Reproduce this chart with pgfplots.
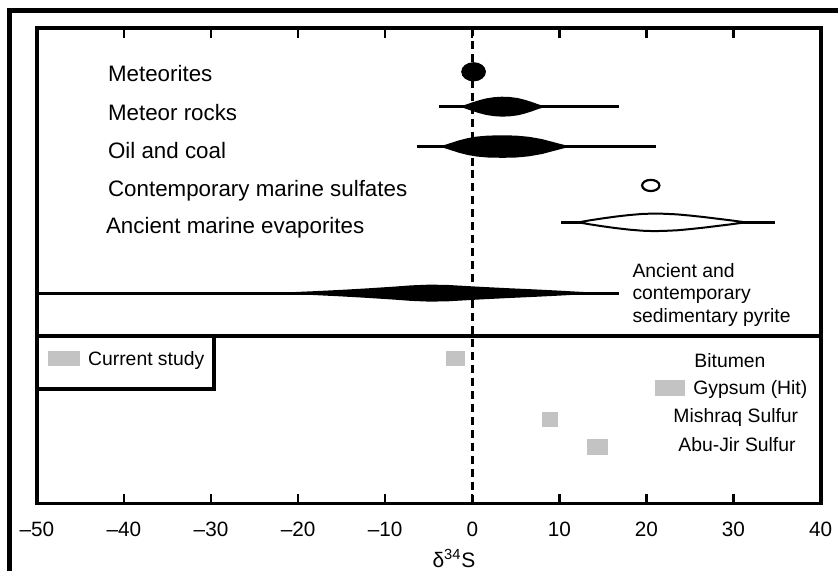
\documentclass[border=0pt]{standalone}
\usepackage{pgfplots}
\pgfplotsset{compat=1.18}
\usepackage{fontspec}
\setmainfont{Liberation Sans}
\definecolor{studygray}{RGB}{195,195,195}
\newcommand{\upfont}{\fontsize{11.2}{13}\selectfont}
\newcommand{\lowfont}{\fontsize{9.7}{11.5}\selectfont}
\begin{document}
\begin{tikzpicture}
\begin{axis}[
  scale only axis, width=393pt, height=238.5pt,
  xmin=-50, xmax=40, ymin=28, ymax=505, y dir=reverse,
  clip=false,
  axis line style={line width=2pt},
  xtick={-50,-40,...,40},
  xticklabels={--50,--40,--30,--20,--10,0,10,20,30,40},
  ytick=\empty,
  tick align=inside,
  major tick length=5pt,
  every tick/.style={black, line width=1.2pt},
  xticklabel style={font=\fontsize{10.4}{12}\selectfont, anchor=base, inner sep=0pt, yshift=-16.5pt},
]
% bounding box of whole figure (pixel frame)
\path (axis cs:-54.237,0) rectangle (axis cs:41.947,573);
% outer frame
\draw[line width=2.5pt] (axis cs:-53.09,573) -- (axis cs:-53.09,11) -- (axis cs:41.947,11);

% zero line
\addplot[line width=1.4pt, dash pattern=on 4pt off 2.5pt] coordinates {(0,28) (0,505)};

% divider and legend box
\addplot[line width=2pt] coordinates {(-50,337) (40,337)};
\draw[line width=2pt] (axis cs:-50,337) rectangle (axis cs:-29.62,390);

% Meteorites
\addplot[only marks, mark=*, mark size=4.6pt, mark options={xscale=1.3, fill=black, draw=none}] coordinates {(0.15,72)};

% Meteor rocks
\addplot[line width=1.5pt] coordinates {(-3.8,107) (16.9,107)};
\addplot[fill=black, draw=none] coordinates {
(-1.2,106.3) (-0.6,104.5) (0,102.7) (0.8,100.5) (1.6,98.7) (2.5,97.5) (3.4,97) (4.3,97.3) (5.2,98.3) (6.0,100) (6.8,102.2) (7.5,104.4) (8.2,106.3)
(8.2,107.7) (7.5,109.6) (6.8,111.8) (6.0,114) (5.2,115.7) (4.3,116.7) (3.4,117) (2.5,116.5) (1.6,115.3) (0.8,113.5) (0,111.3) (-0.6,109.5) (-1.2,107.7)};

% Oil and coal
\addplot[line width=1.5pt] coordinates {(-6.4,147) (21.1,147)};
\addplot[fill=black, draw=none] coordinates {
(-3.5,146.3) (-2.5,143.5) (-1.5,140.7) (-0.5,138.5) (0.5,137) (1.8,136) (3.5,135.7) (5,136) (6.5,137.2) (8,139.5) (9.3,142.5) (10.3,144.8) (11,146.3)
(11,147.7) (10.3,149.2) (9.3,151.5) (8,154.5) (6.5,156.8) (5,158) (3.5,158.3) (1.8,158) (0.5,157) (-0.5,155.5) (-1.5,153.3) (-2.5,150.5) (-3.5,147.7)};

% Contemporary marine sulfates
\addplot[only marks, mark=o, mark size=2.8pt, mark options={xscale=1.55, draw=black, line width=1.1pt, fill=white}] coordinates {(20.5,186)};

% Ancient marine evaporites
\addplot[line width=1.2pt] coordinates {(10.2,223) (34.8,223)};
\addplot[fill=white, draw=black, line width=1pt] coordinates {
(12.2,223) (13.5,221) (15,219) (16.5,217.2) (18,215.7) (19.5,214.6) (20.8,214.2) (22,214.4) (23.5,215) (25,216.2) (26.5,217.6) (28,219.2) (29.5,220.8) (31.4,223)
(29.5,225.2) (28,226.8) (26.5,228.4) (25,229.8) (23.5,231) (22,231.6) (20.8,231.8) (19.5,231.4) (18,230.3) (16.5,228.8) (15,227) (13.5,225) (12.2,223)};

% Ancient and contemporary sedimentary pyrite
\addplot[line width=1.5pt] coordinates {(-50,294) (16.8,294)};
\addplot[fill=black, draw=none] coordinates {
(-21.4,293.3) (-18,292) (-15,290.7) (-12,289.2) (-9,287.5) (-7,286.2) (-5,285.5) (-3,285.7) (-1,286.7) (1,287.7) (4,289) (7,290.2) (10,291.5) (12,292.5) (13.7,293.3)
(13.7,294.7) (12,295.5) (10,296.5) (7,297.8) (4,299) (1,300.3) (-1,301.3) (-3,302.3) (-5,302.5) (-7,301.8) (-9,300.5) (-12,298.8) (-15,297.3) (-18,296) (-21.4,294.7)};

% Current study rectangles
\addplot[fill=studygray, draw=none] coordinates {(-48.74,352) (-45.08,352) (-45.08,367) (-48.74,367)};
\addplot[fill=studygray, draw=none] coordinates {(-3.06,352) (-0.88,352) (-0.88,367) (-3.06,367)};
\addplot[fill=studygray, draw=none] coordinates {(21.0,381) (24.4,381) (24.4,397) (21.0,397)};
\addplot[fill=studygray, draw=none] coordinates {(8.05,413) (9.89,413) (9.89,428) (8.05,428)};
\addplot[fill=studygray, draw=none] coordinates {(13.2,440) (15.6,440) (15.6,456) (13.2,456)};

% labels upper panel
\node[anchor=base west, inner sep=0pt, font=\upfont] at (axis cs:-41.87,82) {Meteorites};
\node[anchor=base west, inner sep=0pt, font=\upfont] at (axis cs:-41.87,121) {Meteor rocks};
\node[anchor=base west, inner sep=0pt, font=\upfont] at (axis cs:-41.87,159) {Oil and coal};
\node[anchor=base west, inner sep=0pt, font=\upfont] at (axis cs:-41.87,197) {Contemporary marine sulfates};
\node[anchor=base west, inner sep=0pt, font=\upfont] at (axis cs:-42.1,234) {Ancient marine evaporites};
\node[anchor=base west, inner sep=0pt, font=\lowfont] at (axis cs:18.36,278) {Ancient and};
\node[anchor=base west, inner sep=0pt, font=\lowfont] at (axis cs:18.36,300.5) {contemporary};
\node[anchor=base west, inner sep=0pt, font=\lowfont] at (axis cs:18.36,323) {sedimentary pyrite};

% labels lower panel
\node[anchor=base west, inner sep=0pt, font=\lowfont] at (axis cs:-44.16,367) {Current study};
\node[anchor=base west, inner sep=0pt, font=\lowfont] at (axis cs:25.47,369) {Bitumen};
\node[anchor=base west, inner sep=0pt, font=\lowfont] at (axis cs:25.35,396) {Gypsum (Hit)};
\node[anchor=base west, inner sep=0pt, font=\lowfont] at (axis cs:23.06,424) {Mishraq Sulfur};
\node[anchor=base west, inner sep=0pt, font=\lowfont] at (axis cs:23.63,453) {Abu-Jir Sulfur};

% x label
\node[anchor=base, inner sep=0pt, font=\fontsize{10.5}{12}\selectfont] at (axis cs:-2.1,569) {δ\textsuperscript{34}S};
\end{axis}
\end{tikzpicture}
\end{document}
